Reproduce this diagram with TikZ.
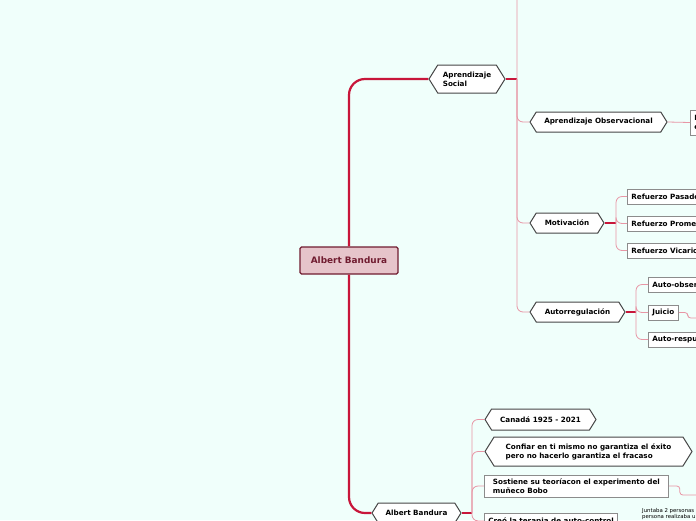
\documentclass[tikz,border=0pt]{standalone}
\usepackage{fontspec}
\setmainfont{DejaVu Sans}
\usetikzlibrary{shapes.symbols,positioning}

\definecolor{bgmint}{RGB}{240,255,251}
\definecolor{trunkred}{RGB}{200,22,58}
\definecolor{branchpink}{RGB}{232,150,165}
\definecolor{rootfill}{RGB}{230,196,202}
\definecolor{rootline}{RGB}{112,28,48}
\definecolor{hexline}{RGB}{70,70,70}
\definecolor{boxline}{RGB}{140,140,140}

\begin{document}
\begin{tikzpicture}[x=1pt, y=-1pt,
    rootbox/.style={draw=rootline, fill=rootfill, line width=1.2pt, rounded corners=1.5pt, minimum width=98pt, minimum height=27pt, font=\fontsize{8.9}{10}\selectfont\bfseries, text=rootline},
    hexbox/.style={shape=signal, signal to=west and east, signal pointer angle=116, draw=hexline, fill=white, line width=1pt, minimum height=20pt, inner sep=2pt, font=\fontsize{7.2}{9.2}\selectfont\bfseries, align=left},
    leafbox/.style={draw=boxline, fill=white, line width=0.8pt, minimum height=15pt, inner xsep=4pt, inner ysep=2pt, anchor=west, font=\fontsize{7.2}{9.2}\selectfont\bfseries, align=left},
    notetext/.style={anchor=north west, inner sep=0pt, font=\fontsize{5.4}{6}\selectfont, align=left},
    trunk/.style={draw=trunkred, line width=2.2pt, rounded corners=16pt},
    branch/.style={draw=branchpink, line width=0.8pt, rounded corners=6pt},
    stem/.style={draw=trunkred, line width=1.2pt}
]
\fill[bgmint] (0,0) rectangle (696,520);
\useasboundingbox (0,0) rectangle (696,520);
\clip (0,0) rectangle (696,520);

\node[rootbox] (root) at (349,260.5) {Albert Bandura};

% aprendizaje social
\node[hexbox, minimum width=76pt, minimum height=28pt] (soc) at (467,79) {Aprendizaje\\Social};
\node[hexbox, minimum width=137pt] (obs) at (598.5,122) {Aprendizaje Observacional};
\node[hexbox, minimum width=74pt] (mot) at (567,223) {Motivación};
\node[hexbox, minimum width=95pt] (aut) at (577.5,312) {Autorregulación};
\coordinate (upper) at (540,-40);

\node[leafbox, minimum height=25pt] (obsleaf) at (690,122.5) {E\\e};

\node[leafbox] (ref1) at (627,196.5) {Refuerzo Pasado};
\node[leafbox] (ref2) at (627,223.5) {Refuerzo Prometido};
\node[leafbox] (ref3) at (627,250.5) {Refuerzo Vicario};

\node[leafbox] (auto1) at (648,284.5) {Auto-observación};
\node[leafbox] (juicio) at (648,312.5) {Juicio};
\node[leafbox] (auto2) at (648,339.5) {Auto-respuesta};
\coordinate (juicio-out) at (720,318);

% biografia
\node[hexbox, minimum width=89pt] (bio) at (416.5,513) {Albert Bandura};
\node[hexbox, minimum width=111pt, minimum height=21pt] (can) at (540.5,419.5) {Canadá 1925 - 2021};
\node[hexbox, minimum width=207pt, minimum height=29pt] (conf) at (588.5,451.5) {Confiar en ti mismo no garantiza el éxito\\pero no hacerlo garantiza el fracaso};
\node[leafbox, minimum width=184pt, minimum height=22pt] (sost) at (484,486) {Sostiene su teoríacon el experimento del\\muñeco Bobo};
\node[leafbox, minimum width=130pt, anchor=north west] (terap) at (484,513) {Creó la terapia de auto-control};
\node[notetext] (note) at (642,508) {Juntaba 2 personas\\persona realizaba u};
\coordinate (sost-out) at (720,495);

% tronco
\draw[trunk] (root.north) |- (soc.west);
\draw[trunk] (root.south) |- (bio.west);

\coordinate (soc-j) at (517,79);
\draw[stem] (soc.east) -- (soc-j);
\draw[branch] (soc-j) |- (upper);
\draw[branch] (soc-j) |- (obs.west);
\draw[branch] (soc-j) |- (mot.west);
\draw[branch] (soc-j) |- (aut.west);
\draw[branch] (obs.east) -- (obsleaf.west);

\coordinate (mot-j) at (616,223);
\draw[stem] (mot.east) -- (mot-j);
\draw[branch] (mot-j) |- (ref1.west);
\draw[branch] (mot-j) |- (ref2.west);
\draw[branch] (mot-j) |- (ref3.west);

\coordinate (aut-j) at (636,312);
\draw[stem] (aut.east) -- (aut-j);
\draw[branch] (aut-j) |- (auto1.west);
\draw[branch] (aut-j) |- (juicio.west);
\draw[branch] (aut-j) |- (auto2.west);
\draw[branch, rounded corners=3pt] (juicio.east) -- ++(9,0) |- (juicio-out);

\coordinate (bio-j) at (472,513);
\draw[stem] (bio.east) -- (bio-j);
\draw[branch] (bio-j) |- (can.west);
\draw[branch] (bio-j) |- (conf.west);
\draw[branch] (bio-j) |- (sost.west);
\draw[branch] (bio-j) |- (terap.west);
\draw[branch, rounded corners=3pt] (sost.east) -- ++(11,0) |- (sost-out);
\end{tikzpicture}
\end{document}
